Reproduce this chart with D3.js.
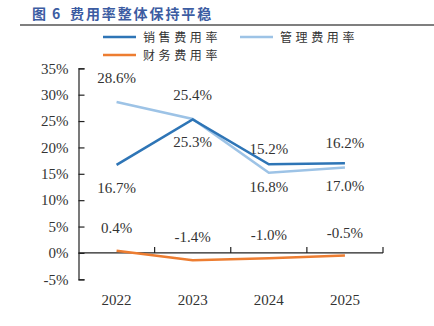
<!DOCTYPE html>
<html>
<head>
<meta charset="utf-8">
<script src="https://cdn.jsdelivr.net/npm/d3@7"></script>
<style>
  body { margin: 0; background: #fff; }
  svg { display: block; }
</style>
</head>
<body>
<div id="chart"></div>
<script>
// expense ratios, %
const years = ['2022', '2023', '2024', '2025'];
const sales = [16.7, 25.3, 16.8, 17.0];   // 销售费用率
const admin = [28.6, 25.4, 15.2, 16.2];   // 管理费用率
const finance = [0.4, -1.4, -1.0, -0.5];  // 财务费用率
const yTicks = [-5, 0, 5, 10, 15, 20, 25, 30, 35];

const W = 434, H = 326;
const serif = "'Liberation Serif', 'Times New Roman', 'Noto Sans CJK SC', serif";
const cjk = "'Noto Sans CJK SC', sans-serif";

const svg = d3.select('#chart').append('svg')
  .attr('width', W)
  .attr('height', H);

// title + rule
const title = svg.append('text')
  .attr('y', 19)
  .style('font-family', cjk)
  .style('font-size', '14px')
  .style('font-weight', 'bold')
  .style('fill', '#3c5ca2');
title.append('tspan').attr('x', 32).text('图');
title.append('tspan').attr('x', 52).text('6');
title.append('tspan').attr('x', 70)
  .style('letter-spacing', '1.9px')
  .text('费用率整体保持平稳');

svg.append('line')
  .attr('x1', 20).attr('x2', 434)
  .attr('y1', 25).attr('y2', 25)
  .attr('stroke', '#555')
  .attr('stroke-width', 1.5);

const x = d3.scaleBand().domain(years).range([78.5, 383]).padding(0);
const y = d3.scaleLinear().domain([-5, 35]).range([279.3, 68.3]);
const cx = d => x(d) + x.bandwidth() / 2;

// y axis, ticks pointing inward
const yAxis = svg.append('g')
  .attr('transform', 'translate(78.5,0)')
  .call(d3.axisLeft(y).tickValues(yTicks)
    .tickFormat(d => d + '%')
    .tickSizeInner(-6).tickSizeOuter(-6).tickPadding(10));
yAxis.selectAll('path, line').attr('stroke', '#222').attr('stroke-width', 1.2);
yAxis.selectAll('text')
  .style('font-family', serif)
  .style('font-size', '15px')
  .style('fill', '#333');

// zero line with category separators
const y0 = y(0);
svg.append('line')
  .attr('x1', 78.5).attr('x2', x.range()[1])
  .attr('y1', y0).attr('y2', y0)
  .attr('stroke', '#222').attr('stroke-width', 1.2);
svg.selectAll('.sep')
  .data(years)
  .enter().append('line')
  .attr('class', 'sep')
  .attr('x1', d => x(d) + x.bandwidth())
  .attr('x2', d => x(d) + x.bandwidth())
  .attr('y1', y0).attr('y2', y0 - 6)
  .attr('stroke', '#222').attr('stroke-width', 1.2);

svg.selectAll('.year')
  .data(years)
  .enter().append('text')
  .attr('class', 'year')
  .attr('x', cx)
  .attr('y', 305)
  .attr('text-anchor', 'middle')
  .style('font-family', serif)
  .style('font-size', '15px')
  .style('fill', '#333')
  .text(d => d);

const series = [
  { name: '财务费用率', values: finance, color: '#ed7d31', dy: -18 },
  { name: '管理费用率', values: admin, color: '#9dc3e6', dy: -19 },
  { name: '销售费用率', values: sales, color: '#2e75b6', dy: 28 }
];

const line = d3.line()
  .x((d, i) => cx(years[i]))
  .y(d => y(d));

series.forEach(s => {
  svg.append('path')
    .datum(s.values)
    .attr('d', line)
    .attr('fill', 'none')
    .attr('stroke', s.color)
    .attr('stroke-width', 2.6);

  svg.selectAll(null)
    .data(s.values)
    .enter().append('text')
    .attr('x', (d, i) => cx(years[i]))
    .attr('y', d => y(d) + s.dy)
    .attr('text-anchor', 'middle')
    .style('font-family', serif)
    .style('font-size', '15px')
    .style('fill', '#333')
    .text(d => d.toFixed(1) + '%');
});

// legend, two rows
const legendItems = [
  { name: '销售费用率', color: '#2e75b6', lx: 103, ly: 37 },
  { name: '管理费用率', color: '#9dc3e6', lx: 240, ly: 37 },
  { name: '财务费用率', color: '#ed7d31', lx: 103, ly: 55 }
];
const lg = svg.selectAll('.legend')
  .data(legendItems)
  .enter().append('g')
  .attr('class', 'legend')
  .attr('transform', d => `translate(${d.lx},${d.ly})`);
lg.append('line')
  .attr('x1', 0).attr('x2', 33)
  .attr('stroke', d => d.color)
  .attr('stroke-width', 2.6);
lg.append('text')
  .attr('x', 40).attr('y', 4.5)
  .style('font-family', cjk)
  .style('font-size', '12px')
  .style('letter-spacing', '3.6px')
  .style('fill', '#333')
  .text(d => d.name);
</script>
</body>
</html>
